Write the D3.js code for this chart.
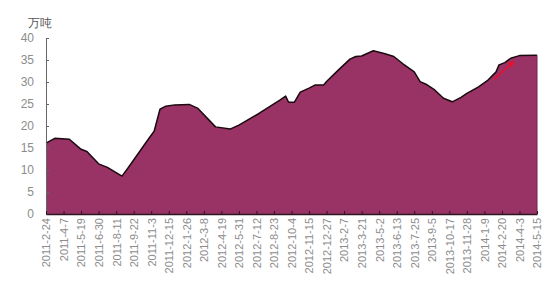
<!DOCTYPE html>
<html>
<head>
<meta charset="utf-8">
<title>万吨</title>
<script src="https://cdn.jsdelivr.net/npm/d3@7"></script>
<style>
  body { margin: 0; background: #fff; }
  text { font-family: "Liberation Sans", Arial, sans-serif; }
</style>
</head>
<body>
<div class="d3-viz"></div>
<script type="text/javascript">

var dates = ["2011-2-24","2011-3-17","2011-4-21","2011-5-19","2011-6-2","2011-6-30","2011-7-21",
             "2011-8-25","2011-9-8","2011-10-27","2011-11-10","2011-11-24","2011-12-8","2011-12-29",
             "2012-2-2","2012-2-23","2012-4-5","2012-5-10","2012-5-31","2012-7-19","2012-9-6",
             "2012-9-20","2012-9-27","2012-10-11","2012-10-25","2012-11-15","2012-11-29","2012-12-20",
             "2012-12-27","2013-1-24","2013-2-21","2013-3-7","2013-3-21","2013-4-18","2013-5-16",
             "2013-6-6","2013-6-27","2013-7-25","2013-8-8","2013-8-22","2013-9-12","2013-10-3",
             "2013-10-24","2013-11-14","2013-11-28","2013-12-26","2014-1-16","2014-2-6","2014-2-13",
             "2014-2-27","2014-3-13","2014-4-3","2014-5-15"];
var values = [16.1,17.2,17.0,14.7,14.2,11.4,10.6,
              8.6,10.4,17.0,18.8,23.8,24.5,24.8,
              24.9,24.0,19.8,19.3,20.2,22.9,25.9,
              26.8,25.4,25.4,27.7,28.6,29.3,29.3,
              30.1,32.7,35.2,35.8,35.9,37.1,36.4,
              35.8,34.2,32.3,30.1,29.5,28.2,26.3,
              25.5,26.5,27.4,28.9,30.3,32.3,33.9,
              34.4,35.4,36.0,36.1];

var tickDates = ["2011-2-24","2011-4-7","2011-5-19","2011-6-30","2011-8-11","2011-9-22","2011-11-3",
                 "2011-12-15","2012-1-26","2012-3-8","2012-4-19","2012-5-31","2012-7-12","2012-8-23",
                 "2012-10-4","2012-11-15","2012-12-27","2013-2-7","2013-3-21","2013-5-2","2013-6-13",
                 "2013-7-25","2013-9-5","2013-10-17","2013-11-28","2014-1-9","2014-2-20","2014-4-3",
                 "2014-5-15"];
var yTicks = [0, 5, 10, 15, 20, 25, 30, 35, 40];
var unitLabel = "万吨";

// red arrow annotation (date, value) start -> end
var arrowFrom = ["2014-2-1", 30.6];
var arrowTo = ["2014-3-20", 34.6];

var width = 550, height = 300;
var parse = d3.timeParse("%Y-%m-%d");
var fmt = d3.timeFormat("%Y-%-m-%-d");

var data = dates.map(function(d, i){ return {date: parse(d), value: values[i]}; });

var svg = d3.select(".d3-viz").append("svg")
    .attr("width", width)
    .attr("height", height);

var x = d3.scaleTime()
    .domain([parse(tickDates[0]), parse(tickDates[tickDates.length - 1])])
    .range([46, 537]);
var y = d3.scaleLinear().domain([0, 40]).range([214, 38]);

// area
var area = d3.area()
    .x(function(d){ return x(d.date); })
    .y0(y(0))
    .y1(function(d){ return y(d.value); });
var line = d3.line()
    .x(function(d){ return x(d.date); })
    .y(function(d){ return y(d.value); });

svg.append("path")
   .datum(data)
   .attr("d", area)
   .attr("fill", "#993366");
svg.append("path")
   .datum(data)
   .attr("d", line)
   .attr("fill", "none")
   .attr("stroke", "#1a0a10")
   .attr("stroke-width", 1.5)
   .attr("stroke-linejoin", "round");
// right edge of area
svg.append("line")
   .attr("x1", x(data[data.length-1].date)).attr("x2", x(data[data.length-1].date))
   .attr("y1", y(values[values.length-1])).attr("y2", y(0))
   .attr("stroke", "#6b2448").attr("stroke-width", 1);

// y axis
var yAxis = svg.append("g")
    .attr("transform", "translate(46,0)")
    .call(d3.axisLeft(y).tickValues(yTicks).tickSizeInner(-3).tickSizeOuter(0).tickPadding(12));
yAxis.select(".domain").attr("stroke", "#666");
yAxis.selectAll(".tick line").attr("stroke", "#666");
yAxis.selectAll("text").attr("fill", "#8c8c8c").style("font-size", "12px");

// x axis
var xAxis = svg.append("g")
    .attr("transform", "translate(0,214)")
    .call(d3.axisBottom(x).tickValues(tickDates.map(parse)).tickFormat(fmt)
          .tickSizeInner(-3).tickSizeOuter(0).tickPadding(4));
xAxis.select(".domain").attr("stroke", "#2a1520").attr("stroke-width", 1.5);
xAxis.selectAll(".tick line").attr("stroke", "#2a1520");
xAxis.selectAll("text")
     .attr("fill", "#8c8c8c")
     .style("font-size", "11px")
     .attr("text-anchor", "end")
     .attr("transform", "rotate(-90)")
     .attr("x", -4)
     .attr("y", 0)
     .attr("dy", "0.35em");

// unit label
svg.append("text")
   .attr("x", 28).attr("y", 27)
   .attr("fill", "#555")
   .style("font-size", "12px")
   .text(unitLabel);

// red arrow
svg.append("defs").append("marker")
   .attr("id", "arrowhead")
   .attr("viewBox", "0 0 10 10")
   .attr("refX", 8).attr("refY", 5)
   .attr("markerWidth", 4.5).attr("markerHeight", 4.5)
   .attr("orient", "auto")
   .append("path").attr("d", "M0,0L10,5L0,10z").attr("fill", "#e8102a");
svg.append("line")
   .attr("x1", x(parse(arrowFrom[0]))).attr("y1", y(arrowFrom[1]))
   .attr("x2", x(parse(arrowTo[0]))).attr("y2", y(arrowTo[1]))
   .attr("stroke", "#e8102a").attr("stroke-width", 1.5)
   .attr("marker-end", "url(#arrowhead)");

</script>
</body>
</html>
